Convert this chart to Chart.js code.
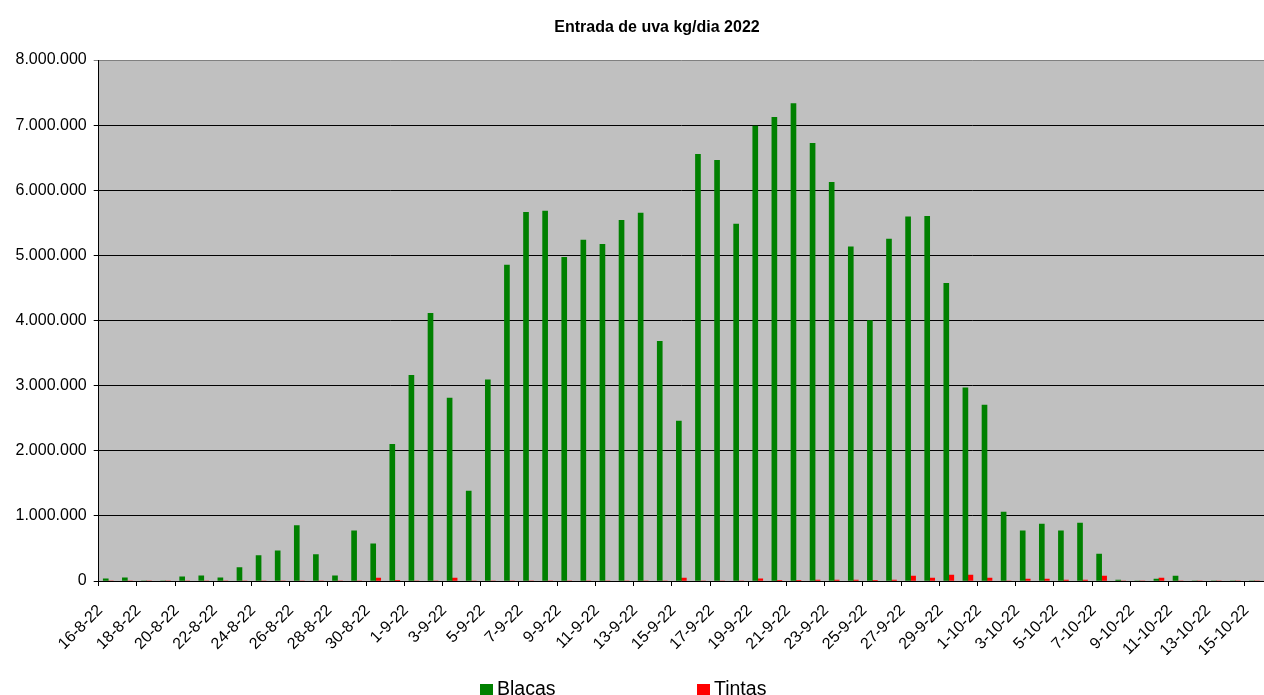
<!DOCTYPE html>
<html lang="es">
<head>
  <meta charset="UTF-8">
  <title>Entrada de uva kg/dia 2022</title>
  <script src="https://cdn.jsdelivr.net/npm/chart.js"></script>
  <style>
    html, body {
      margin: 0;
      padding: 0;
      background: #fff;
      overflow: hidden;
      width: 1264px;
      height: 695px;
    }
    #wrap {
      position: relative;
      width: 1314px;
      height: 695px;
    }
    #legend {
      position: absolute;
      top: 677px;
      left: 0;
      font-family: "Liberation Sans", Arial, sans-serif;
      font-size: 19.5px;
      color: #000;
    }
    #legend .item {
      position: absolute;
      white-space: nowrap;
      line-height: 22px;
    }
    #legend .box {
      display: inline-block;
      width: 13px;
      height: 12px;
      margin-right: 4px;
      vertical-align: -1px;
    }
  </style>
</head>
<body>
  <div id="wrap">
    <canvas id="grapes" width="1314" height="695"></canvas>
    <div id="legend"></div>
  </div>

  <script>
    // categorias (dias)
    const dias = [
      "16-8-22", "17-8-22", "18-8-22", "19-8-22", "20-8-22", "21-8-22", "22-8-22", "23-8-22",
      "24-8-22", "25-8-22", "26-8-22", "27-8-22", "28-8-22", "29-8-22", "30-8-22", "31-8-22",
      "1-9-22", "2-9-22", "3-9-22", "4-9-22", "5-9-22", "6-9-22", "7-9-22", "8-9-22",
      "9-9-22", "10-9-22", "11-9-22", "12-9-22", "13-9-22", "14-9-22", "15-9-22", "16-9-22",
      "17-9-22", "18-9-22", "19-9-22", "20-9-22", "21-9-22", "22-9-22", "23-9-22", "24-9-22",
      "25-9-22", "26-9-22", "27-9-22", "28-9-22", "29-9-22", "30-9-22", "1-10-22", "2-10-22",
      "3-10-22", "4-10-22", "5-10-22", "6-10-22", "7-10-22", "8-10-22", "9-10-22", "10-10-22",
      "11-10-22", "12-10-22", "13-10-22", "14-10-22", "15-10-22"
    ];

    // kg/dia, uva blanca
    const blacas = [
      35000, 50000, 0, 0, 65000, 80000, 50000, 205000,
      390000, 465000, 850000, 405000, 80000, 772000, 572000, 2100000,
      3160000, 4110000, 2810000, 1380000, 3090000, 4850000, 5660000, 5680000,
      4970000, 5235000, 5170000, 5540000, 5650000, 3680000, 2455000, 6550000,
      6460000, 5480000, 6985000, 7120000, 7330000, 6720000, 6120000, 5130000,
      4000000, 5250000, 5590000, 5600000, 4570000, 2965000, 2700000, 1060000,
      770000, 875000, 770000, 890000, 415000, 15000, 0, 30000,
      77000, 0, 0, 0, 0
    ];

    // kg/dia, uva tinta
    const tintas = [
      0, 0, 0, 0, 0, 0, 0, 0,
      0, 0, 0, 0, 0, 0, 46000, 12000,
      0, 0, 46000, 0, 0, 0, 0, 0,
      0, 0, 0, 0, 0, 0, 46000, 0,
      0, 0, 35000, 5000, 5000, 15000, 15000, 15000,
      5000, 15000, 77000, 46000, 92000, 92000, 46000, 0,
      30000, 30000, 15000, 15000, 77000, 0, 0, 45000,
      0, 0, 0, 0, 0
    ];

    const yTicks = { min: 0, max: 8000000, step: 1000000 };

    const FONT = "'Liberation Sans', Arial, sans-serif";

    function miles(v) {
      return String(v).replace(/\B(?=(\d{3})+(?!\d))/g, ".");
    }

    // fondo gris del area de trazado
    const plotBg = {
      id: "plotBg",
      beforeDraw(chart) {
        const a = chart.chartArea;
        const ctx = chart.ctx;
        ctx.save();
        ctx.fillStyle = "#c0c0c0";
        ctx.fillRect(a.left, a.top, a.right - a.left, a.bottom - a.top);
        ctx.restore();
      }
    };

    const chart = new Chart(document.getElementById("grapes"), {
      type: "bar",
      data: {
        labels: dias,
        datasets: [
          { label: "Blacas", data: blacas, backgroundColor: "#008000", barThickness: 5 },
          { label: "Tintas", data: tintas, backgroundColor: "#ff0000", barThickness: 5 }
        ]
      },
      options: {
        responsive: false,
        animation: false,
        devicePixelRatio: 1,
        layout: { padding: { left: 0, right: 0, top: 0, bottom: 40 } },
        plugins: {
          legend: { display: false },
          tooltip: { enabled: false },
          title: {
            display: true,
            text: "Entrada de uva kg/dia 2022",
            color: "#000",
            font: { family: FONT, size: 16, weight: "bold" },
            padding: { top: 18, bottom: 22.8 }
          }
        },
        scales: {
          x: {
            offset: true,
            grid: {
              offset: true,
              drawOnChartArea: false,
              drawTicks: true,
              tickLength: 5,
              color: (ctx) => (ctx.index % 2 === 0 ? "#000" : "rgba(0,0,0,0)")
            },
            border: { color: "#000", width: 1 },
            ticks: {
              autoSkip: false,
              maxRotation: 45,
              minRotation: 45,
              padding: 15,
              labelOffset: -8,
              color: "#000",
              font: { family: FONT, size: 16 },
              callback: function (val, i) {
                return i % 2 === 0 ? this.getLabelForValue(val) : "";
              }
            },
            afterFit: (scale) => { scale.height = 74; }
          },
          y: {
            min: yTicks.min,
            max: yTicks.max,
            grid: {
              color: (ctx) => (ctx.tick && ctx.tick.value === yTicks.max ? "#808080" : "#000"),
              tickLength: 5,
              lineWidth: 1
            },
            border: { color: "#000", width: 1 },
            ticks: {
              stepSize: yTicks.step,
              padding: 7,
              color: "#000",
              font: { family: FONT, size: 16 },
              callback: (v) => miles(v)
            },
            afterFit: (scale) => { scale.width = 98.7; }
          },
          // hueco a la derecha: el grafico original sigue fuera del recorte
          margen: {
            position: "right",
            grid: { display: false },
            border: { display: false },
            ticks: { display: false },
            afterFit: (scale) => { scale.width = 50; }
          }
        }
      },
      plugins: [plotBg]
    });

    // leyenda en html, como en la hoja original
    const legendPos = [480, 697];
    const legend = document.getElementById("legend");
    chart.data.datasets.forEach((ds, i) => {
      const item = document.createElement("div");
      item.className = "item";
      item.style.left = legendPos[i] + "px";
      item.innerHTML = '<span class="box" style="background:' + ds.backgroundColor + '"></span>' + ds.label;
      legend.appendChild(item);
    });
  </script>
</body>
</html>
